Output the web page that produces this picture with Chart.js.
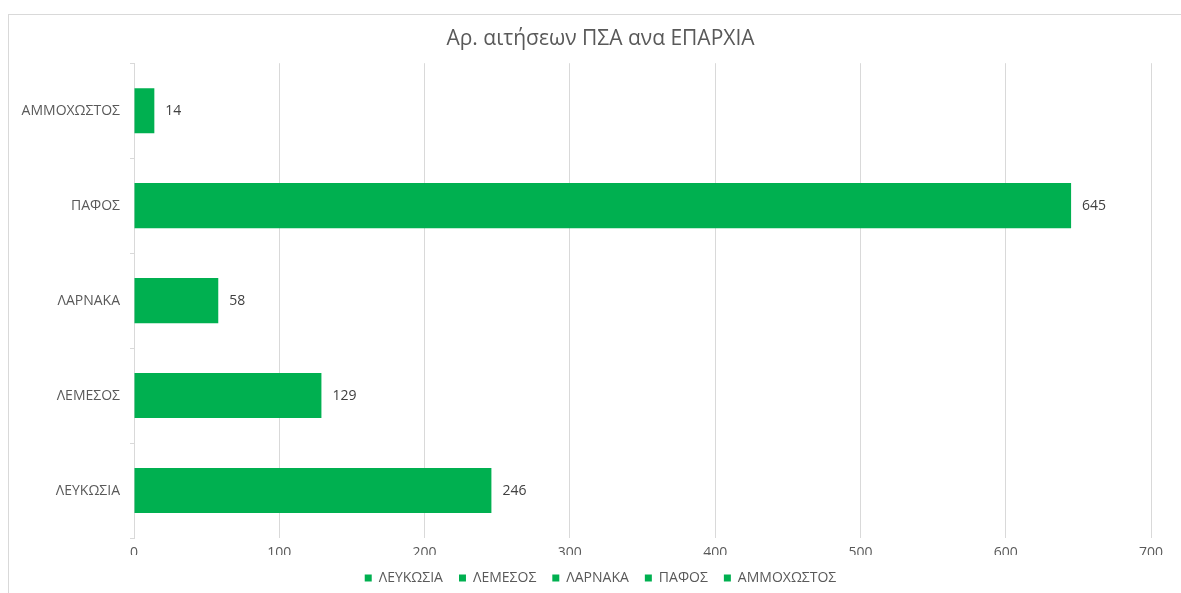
<!DOCTYPE html>
<html>
<head>
<meta charset="utf-8">
<script src="https://cdn.jsdelivr.net/npm/chart.js@4"></script>
<style>
html,body{margin:0;padding:0;background:#fff;}
#wrap{position:relative;width:1181px;height:593px;}
#frame{position:absolute;left:8px;top:14px;width:1200px;height:600px;border-top:1px solid #d9d9d9;border-left:1px solid #d9d9d9;box-sizing:border-box;}
canvas{position:absolute;left:0;top:0;}
</style>
</head>
<body>
<div id="wrap">
<div id="frame"></div>
<canvas id="c" width="1181" height="593"></canvas>
</div>
<script>
const titleText = 'Αρ. αιτήσεων ΠΣΑ ανα ΕΠΑΡΧΙΑ';
const categories = ['ΑΜΜΟΧΩΣΤΟΣ', 'ΠΑΦΟΣ', 'ΛΑΡΝΑΚΑ', 'ΛΕΜΕΣΟΣ', 'ΛΕΥΚΩΣΙΑ'];
const values = [14, 645, 58, 129, 246];
const legendOrder = ['ΛΕΥΚΩΣΙΑ', 'ΛΕΜΕΣΟΣ', 'ΛΑΡΝΑΚΑ', 'ΠΑΦΟΣ', 'ΑΜΜΟΧΩΣΤΟΣ'];
const xTicks = [0, 100, 200, 300, 400, 500, 600, 700];

const GREEN = '#00B050';
const TEXT = '#595959';
const FONT = "'Open Sans', sans-serif";

const valueLabels = {
  id: 'valueLabels',
  afterDatasetsDraw(chart) {
    const ctx = chart.ctx;
    const meta = chart.getDatasetMeta(0);
    ctx.save();
    ctx.font = '14px ' + FONT;
    ctx.fillStyle = '#404040';
    ctx.textAlign = 'left';
    ctx.textBaseline = 'middle';
    meta.data.forEach((bar, i) => {
      ctx.fillText(String(values[i]), bar.x + 11, bar.y);
    });
    ctx.restore();
  }
};

// let the category labels extend into the left padding without being clipped
const widenYLabelArea = {
  id: 'widenYLabelArea',
  afterLayout(chart) { chart.scales.y.left = 0; }
};

new Chart(document.getElementById('c'), {
  type: 'bar',
  data: {
    labels: categories,
    datasets: [{
      label: 'Σειρά1',
      data: values,
      backgroundColor: GREEN,
      borderWidth: 0,
      barPercentage: 0.475,
      categoryPercentage: 1.0
    }]
  },
  options: {
    indexAxis: 'y',
    responsive: false,
    animation: false,
    devicePixelRatio: 1,
    layout: { padding: { left: 50, right: 30, top: 0, bottom: -2 } },
    plugins: {
      title: {
        display: true,
        text: titleText,
        color: TEXT,
        font: { family: FONT, size: 21, weight: 'normal' },
        padding: { top: 26, bottom: 12 }
      },
      legend: {
        display: true,
        position: 'bottom',
        labels: {
          color: TEXT,
          font: { family: FONT, size: 14 },
          boxWidth: 7,
          boxHeight: 7,
          padding: 16,
          generateLabels() {
            return legendOrder.map(t => ({
              text: t,
              fillStyle: GREEN,
              strokeStyle: GREEN,
              fontColor: TEXT,
              lineWidth: 0,
              hidden: false
            }));
          }
        },
        onClick() {}
      },
      tooltip: { enabled: false }
    },
    scales: {
      x: {
        type: 'linear',
        min: 0,
        max: 700,
        afterBuildTicks(scale) { scale.ticks = xTicks.map(v => ({ value: v })); },
        afterFit(scale) { scale.height = 17; },
        grid: { color: '#d9d9d9', lineWidth: 1, drawTicks: false },
        border: { display: false },
        ticks: { color: TEXT, font: { family: FONT, size: 14 }, padding: 7 }
      },
      y: {
        type: 'category',
        offset: true,
        afterFit(scale) { scale.width = 84; },
        grid: { offset: true, drawOnChartArea: false, drawTicks: true, tickLength: 4, color: '#d9d9d9' },
        border: { display: true, color: '#d9d9d9' },
        ticks: { color: TEXT, font: { family: FONT, size: 14 }, padding: 10 }
      }
    }
  },
  plugins: [valueLabels, widenYLabelArea]
});
</script>
</body>
</html>
